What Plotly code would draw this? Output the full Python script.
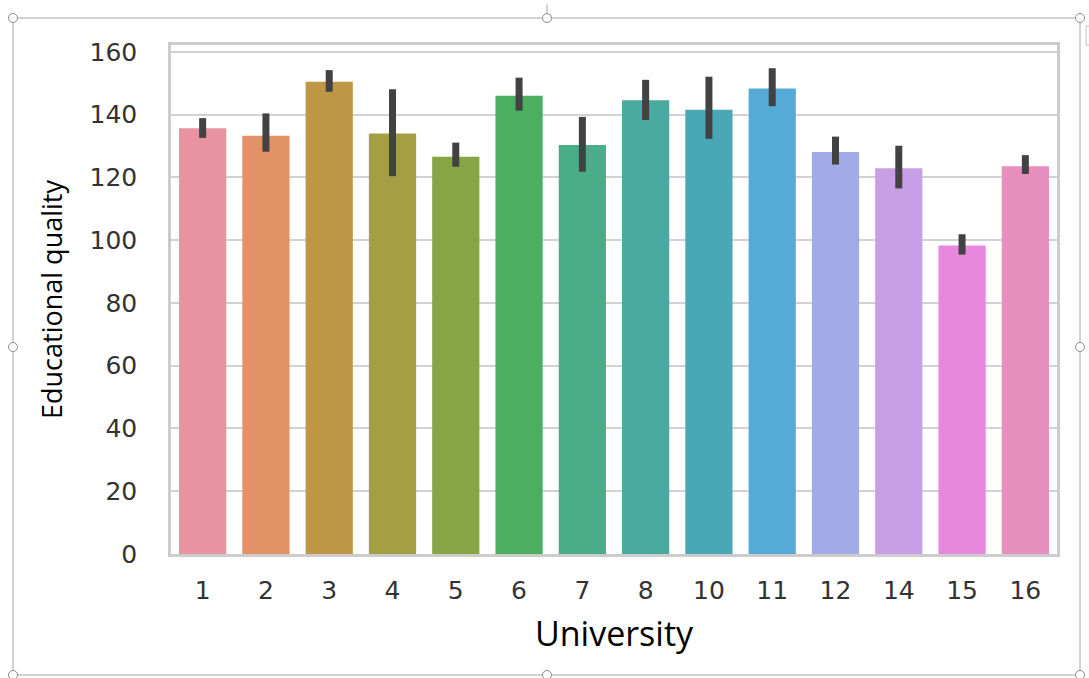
import plotly.graph_objects as go

universities = ["1", "2", "3", "4", "5", "6", "7", "8", "10", "11", "12", "14", "15", "16"]
quality_mean = [135.7, 133.3, 150.5, 134.0, 126.6, 146.0, 130.3, 144.6, 141.6, 148.3, 128.1, 122.9, 98.3, 123.6]
ci_upper = [138.9, 140.4, 154.2, 148.1, 131.1, 151.8, 139.3, 151.1, 152.1, 154.8, 133.0, 130.1, 101.9, 127.1]
ci_lower = [132.6, 128.2, 147.3, 120.4, 123.4, 141.3, 121.8, 138.3, 132.3, 142.7, 124.1, 116.5, 95.4, 121.1]
bar_colors = ["#E8939F", "#E29266", "#BF9646", "#A59E45", "#86A545", "#4AAF60", "#4AAD8A",
              "#4AA9A1", "#4AA8B6", "#56ABD6", "#A0ABE8", "#C89EE6", "#E787DE", "#E68FBD"]
y_ticks = [0, 20, 40, 60, 80, 100, 120, 140, 160]

W_FIG, H_FIG = 1089, 678
L, R, T, B = 171, 1057, 45, 554
PW, PH = R - L, B - T

def px(x):
    return (x - L) / PW

def py(y):
    return (B - y) / PH

fig = go.Figure()
fig.add_trace(go.Bar(
    x=universities,
    y=quality_mean,
    marker=dict(color=bar_colors, line=dict(width=0)),
    error_y=dict(
        type="data", symmetric=False,
        array=[u - m for u, m in zip(ci_upper, quality_mean)],
        arrayminus=[m - l for m, l in zip(quality_mean, ci_lower)],
        color="#424242", thickness=7, width=0,
    ),
    hoverinfo="x+y",
))

shapes = []
frame_col = "#a6a6a6"
# selection frame lines
for (x0, y0, x1, y1) in [(13, 18, 1080, 18), (13, 675, 1080, 675), (13, 18, 13, 675), (1080, 18, 1080, 675),
                         (547, 4, 547, 13)]:
    shapes.append(dict(type="line", xref="paper", yref="paper",
                       x0=px(x0), y0=py(y0), x1=px(x1), y1=py(y1),
                       line=dict(color=frame_col, width=1)))
# small layout-options box at top right
shapes.append(dict(type="rect", xref="paper", yref="paper",
                   x0=px(1086), y0=py(26), x1=px(1096), y1=py(45),
                   line=dict(color="#c0c0c0", width=1), fillcolor="white"))
# handles
for (cx, cy) in [(13, 18), (547, 18), (1080, 18), (13, 347), (1080, 347), (13, 675), (547, 675), (1080, 675)]:
    r = 4.5
    shapes.append(dict(type="circle", xref="paper", yref="paper",
                       x0=px(cx - r), y0=py(cy + r), x1=px(cx + r), y1=py(cy - r),
                       line=dict(color="#8c8c8c", width=1), fillcolor="white"))

fig.update_layout(
    width=W_FIG, height=H_FIG,
    margin=dict(l=L, r=W_FIG - R, t=T, b=H_FIG - B, autoexpand=False),
    paper_bgcolor="white", plot_bgcolor="white",
    bargap=0.254,
    showlegend=False,
    shapes=shapes,
    xaxis=dict(
        type="category",
        range=[-0.5, len(universities) - 0.5],
        showgrid=False, zeroline=False,
        showline=True, mirror=True, linecolor="#cccccc", linewidth=2.5,
        ticks="", ticklabelstandoff=12,
        tickfont=dict(family="DejaVu Sans", size=25, color="#333333"),
        title=dict(text="University", standoff=19,
                   font=dict(family="Open Sans", size=34, color="#000000")),
    ),
    yaxis=dict(
        range=[0, 162.2],
        tickvals=y_ticks,
        showgrid=True, gridcolor="#d2d2d2", gridwidth=2,
        zeroline=False,
        showline=True, mirror=True, linecolor="#cccccc", linewidth=2.5,
        ticks="", ticklabelstandoff=26,
        tickfont=dict(family="DejaVu Sans", size=25, color="#333333"),
        title=dict(text="Educational quality", standoff=20,
                   font=dict(family="Open Sans", size=27, color="#000000")),
    ),
)

fig.write_html("out.html", config={"displayModeBar": False},
               post_script="document.body.style.margin='0';document.body.style.overflow='hidden';")
